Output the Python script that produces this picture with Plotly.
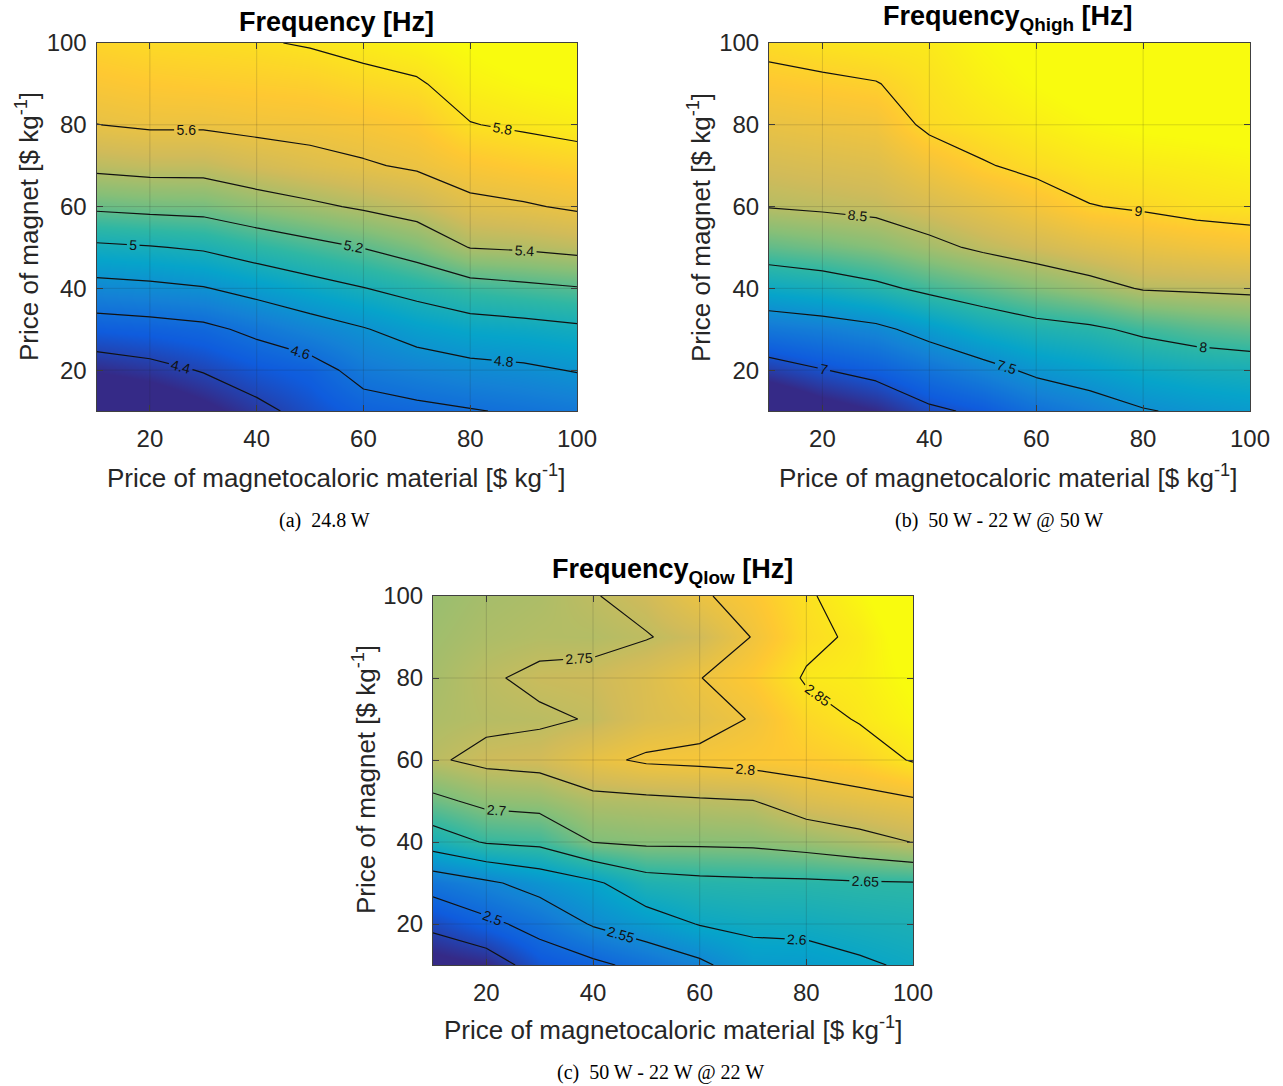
import plotly.graph_objects as go

# Grid: price of magnetocaloric material (x) and price of magnet (y), $/kg
price_mcm = [10, 20, 30, 40, 50, 60, 70, 80, 90, 100]
price_magnet = [10, 20, 30, 40, 50, 60, 70, 80, 90, 100]

# Each row is one magnet price (10 -> 100), columns follow price_mcm
freq_24w = [
    [4.12, 4.17, 4.26, 4.36, 4.45, 4.53, 4.56, 4.59, 4.62, 4.65],
    [4.31, 4.35, 4.41, 4.48, 4.53, 4.66, 4.71, 4.75, 4.77, 4.81],
    [4.51, 4.53, 4.56, 4.64, 4.72, 4.79, 4.87, 4.92, 4.94, 4.97],
    [4.74, 4.76, 4.79, 4.86, 4.93, 4.995, 5.06, 5.13, 5.16, 5.19],
    [4.97, 4.99, 5.02, 5.09, 5.15, 5.205, 5.28, 5.405, 5.42, 5.45],
    [5.23, 5.25, 5.26, 5.32, 5.37, 5.42, 5.47, 5.56, 5.585, 5.62],
    [5.44, 5.46, 5.46, 5.51, 5.55, 5.585, 5.62, 5.68, 5.71, 5.735],
    [5.598, 5.62, 5.62, 5.64, 5.65, 5.67, 5.70, 5.795, 5.82, 5.845],
    [5.68, 5.70, 5.71, 5.72, 5.73, 5.76, 5.785, 5.86, 5.89, 5.91],
    [5.75, 5.77, 5.78, 5.79, 5.81, 5.84, 5.87, 5.91, 5.95, 5.97],
]

freq_qhigh = [
    [6.44, 6.63, 6.75, 6.95, 7.05, 7.23, 7.35, 7.48, 7.55, 7.60],
    [6.87, 6.99, 7.09, 7.25, 7.40, 7.56, 7.65, 7.75, 7.81, 7.84],
    [7.29, 7.35, 7.43, 7.61, 7.78, 7.89, 7.95, 8.06, 8.14, 8.19],
    [7.755, 7.82, 7.93, 8.07, 8.18, 8.30, 8.40, 8.52, 8.54, 8.56],
    [8.18, 8.24, 8.31, 8.43, 8.545, 8.63, 8.72, 8.79, 8.84, 8.88],
    [8.51, 8.54, 8.57, 8.66, 8.76, 8.87, 8.99, 9.03, 9.08, 9.10],
    [8.65, 8.68, 8.71, 8.85, 8.98, 9.06, 9.12, 9.15, 9.17, 9.20],
    [8.79, 8.82, 8.85, 9.05, 9.11, 9.17, 9.23, 9.27, 9.29, 9.31],
    [8.93, 8.96, 8.99, 9.09, 9.18, 9.25, 9.31, 9.36, 9.39, 9.42],
    [9.06, 9.10, 9.13, 9.14, 9.23, 9.30, 9.37, 9.43, 9.47, 9.50],
]

freq_qlow = [
    [2.410, 2.423, 2.473, 2.490, 2.514, 2.540, 2.579, 2.581, 2.594, 2.606],
    [2.461, 2.489, 2.516, 2.554, 2.578, 2.602, 2.610, 2.612, 2.619, 2.625],
    [2.520, 2.542, 2.568, 2.592, 2.630, 2.638, 2.641, 2.642, 2.646, 2.648],
    [2.624, 2.654, 2.661, 2.701, 2.708, 2.708, 2.710, 2.720, 2.734, 2.751],
    [2.689, 2.712, 2.717, 2.737, 2.740, 2.745, 2.749, 2.774, 2.785, 2.795],
    [2.745, 2.760, 2.765, 2.790, 2.806, 2.810, 2.816, 2.820, 2.830, 2.853],
    [2.735, 2.742, 2.745, 2.752, 2.774, 2.785, 2.8025, 2.835, 2.853, 2.870],
    [2.730, 2.746, 2.757, 2.760, 2.775, 2.799, 2.820, 2.854, 2.860, 2.880],
    [2.725, 2.735, 2.740, 2.740, 2.748, 2.763, 2.802, 2.840, 2.857, 2.890],
    [2.720, 2.730, 2.735, 2.748, 2.762, 2.795, 2.815, 2.845, 2.870, 2.900],
]

tick_vals = [20, 40, 60, 80, 100]
grid_vals = [20, 40, 60, 80]

# contour level spacing per panel: (start, end, step)
levels_24w = (4.4, 5.8, 0.2)
levels_qhigh = (7.0, 9.0, 0.5)
levels_qlow = (2.45, 2.85, 0.05)

parula = [
    [0.000, "#352a87"], [0.125, "#0f5cdd"], [0.250, "#1481d6"],
    [0.375, "#06a4ca"], [0.500, "#2eb7a4"], [0.625, "#87bf77"],
    [0.750, "#d1bb59"], [0.875, "#fec832"], [1.000, "#f9fb0e"],
]

W, H = 1283, 1086
SANS = "Liberation Sans, Arial, Helvetica, sans-serif"
SERIF = "Liberation Serif, Times New Roman, serif"
TXT = "#262626"


def px_x(p):
    return p / W


def px_y(p):
    return 1 - p / H


panels = [
    # (z, levels, x-domain px, y-domain px, axis suffix)
    (freq_24w, levels_24w, (96.5, 577), (43, 411), ""),
    (freq_qhigh, levels_qhigh, (769, 1250), (43, 411), "2"),
    (freq_qlow, levels_qlow, (433, 913), (596, 965), "3"),
]

fig = go.Figure()
layout_axes = {}
shapes = []

for z, (lo, hi, step), (xl, xr), (yt, yb), sfx in panels:
    fig.add_trace(go.Contour(
        x=price_mcm, y=price_magnet, z=z,
        colorscale=parula, showscale=False,
        contours=dict(start=lo, end=hi, size=step, coloring="heatmap",
                      showlabels=True, labelformat=".3~g",
                      labelfont=dict(size=14, color="#111111", family=SANS)),
        line=dict(color="#111111", width=1.2, smoothing=0),
        xaxis="x" + sfx, yaxis="y" + sfx,
        hoverinfo="skip",
    ))
    axis_common = dict(
        range=[10, 100], tickvals=tick_vals, ticks="inside", ticklen=6,
        tickcolor="#404040", showline=True, linecolor="#404040", linewidth=1,
        mirror="allticks", showgrid=False, zeroline=False, automargin=False,
        tickfont=dict(family=SANS, size=24, color=TXT),
    )
    layout_axes["xaxis" + sfx] = dict(
        axis_common, domain=[px_x(xl), px_x(xr)], anchor="y" + sfx,
        ticklabelstandoff=6,
    )
    layout_axes["yaxis" + sfx] = dict(
        axis_common, domain=[px_y(yb), px_y(yt)], anchor="x" + sfx,
        ticklabelstandoff=4,
    )
    xr_ref, yr_ref = "x" + sfx, "y" + sfx
    for g in grid_vals:
        shapes.append(dict(type="line", xref=xr_ref, yref=yr_ref + " domain",
                           x0=g, x1=g, y0=0, y1=1, layer="above",
                           line=dict(color="rgba(38,38,38,0.16)", width=1)))
        shapes.append(dict(type="line", xref=xr_ref + " domain", yref=yr_ref,
                           x0=0, x1=1, y0=g, y1=g, layer="above",
                           line=dict(color="rgba(38,38,38,0.16)", width=1)))

xlabel = "Price of magnetocaloric material [$ kg<sup>-1</sup>]"
ylabel = "Price of magnet [$ kg<sup>-1</sup>]"

annotations = []


def add_text(text, x, y, size, family=SANS, color=TXT, angle=0):
    annotations.append(dict(
        text=text, x=px_x(x), y=px_y(y), xref="paper", yref="paper",
        showarrow=False, xanchor="center", yanchor="middle", textangle=angle,
        font=dict(family=family, size=size, color=color),
    ))


# panel titles
add_text("<b>Frequency [Hz]</b>", 336, 22, 27, color="#000000")
add_text("<b>Frequency<sub>Qhigh</sub> [Hz]</b>", 1008, 18, 27, color="#000000")
add_text("<b>Frequency<sub>Qlow</sub> [Hz]</b>", 672, 571, 27, color="#000000")

# axis titles
add_text(xlabel, 336, 476, 26)
add_text(xlabel, 1008, 476, 26)
add_text(xlabel, 673, 1028, 26)
add_text(ylabel, 28, 227, 26, angle=-90)
add_text(ylabel, 700, 227, 26, angle=-90)
add_text(ylabel, 364, 780, 26, angle=-90)

# sub-figure captions
add_text("(a)  24.8 W", 324, 520, 20, family=SERIF, color="#000000")
add_text("(b)  50 W - 22 W @ 50 W", 999, 520, 20, family=SERIF, color="#000000")
add_text("(c)  50 W - 22 W @ 22 W", 660, 1072, 20, family=SERIF, color="#000000")

fig.update_layout(
    width=W, height=H,
    margin=dict(l=0, r=0, t=0, b=0, pad=0, autoexpand=False),
    paper_bgcolor="white", plot_bgcolor="white",
    showlegend=False,
    annotations=annotations,
    shapes=shapes,
    **layout_axes,
)

fig.write_html("out.html")
